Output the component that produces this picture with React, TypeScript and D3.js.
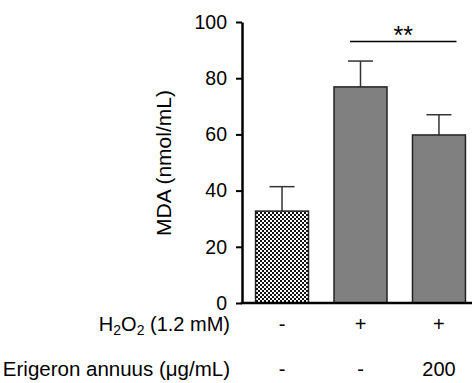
import React, { useRef, useEffect } from "react";
import { scaleBand, scaleLinear, axisLeft, select } from "d3";

const groups = ["control", "h2o2", "h2o2+ea"];
const means = [32.7, 76.9, 59.8];
const errors = [8.7, 9.2, 7.2];
const h2o2Row = ["-", "+", "+"];
const eaRow = ["-", "-", "200"];
const yTicks = [0, 20, 40, 60, 80, 100];

const font = "'Liberation Sans', Arial, Helvetica, sans-serif";

export default function App() {
  const width = 472,
    height = 383,
    axisX = 242,
    baseY = 303,
    topY = 22;

  const yAxisRef = useRef<SVGGElement>(null);

  const x = scaleBand()
    .domain(groups)
    .range([243, 478])
    .paddingInner(0.325)
    .paddingOuter(0.16);

  const y = scaleLinear().domain([0, 100]).range([baseY, topY]);

  useEffect(() => {
    const g = select(yAxisRef.current);
    g.call(
      axisLeft(y)
        .tickValues(yTicks)
        .tickSize(6)
        .tickPadding(9)
        .tickSizeOuter(0)
    );
    g.select(".domain").attr("stroke", "#000").attr("stroke-width", 2.5);
    g.selectAll(".tick line").attr("stroke", "#000").attr("stroke-width", 2);
    g.selectAll(".tick text")
      .attr("fill", "#000")
      .style("font-size", "19.5px")
      .style("font-family", font);
  }, []);

  const cx = (d: string) => (x(d) as number) + x.bandwidth() / 2;
  const capHalf = 12.5;

  return (
    <svg
      width={width}
      height={height}
      style={{ position: "absolute", left: 0, top: 0, background: "#fff" }}
    >
      <defs>
        <pattern id="checks" width="4" height="4" patternUnits="userSpaceOnUse">
          <rect width="4" height="4" fill="#fff" />
          <rect width="2" height="2" fill="#111" />
          <rect x="2" y="2" width="2" height="2" fill="#111" />
        </pattern>
      </defs>

      {groups.map((d, i) => (
        <g key={d}>
          <line
            x1={cx(d)}
            x2={cx(d)}
            y1={y(means[i])}
            y2={y(means[i] + errors[i])}
            stroke="#333"
            strokeWidth={1.5}
          />
          <line
            x1={cx(d) - capHalf}
            x2={cx(d) + capHalf}
            y1={y(means[i] + errors[i])}
            y2={y(means[i] + errors[i])}
            stroke="#333"
            strokeWidth={1.5}
          />
          <rect
            x={x(d)}
            y={y(means[i])}
            width={x.bandwidth()}
            height={baseY - y(means[i])}
            fill={i === 0 ? "url(#checks)" : "#808080"}
            stroke="#222"
            strokeWidth={1.5}
          />
        </g>
      ))}

      <g ref={yAxisRef} transform={`translate(${axisX},0)`} />
      <line
        x1={axisX - 1.25}
        x2={width}
        y1={baseY}
        y2={baseY}
        stroke="#000"
        strokeWidth={2.5}
      />

      <text
        transform={`translate(171, 163) rotate(-90)`}
        textAnchor="middle"
        style={{ fontFamily: font, fontSize: 21 }}
      >
        MDA (nmol/mL)
      </text>

      {/* significance bracket */}
      <line
        x1={cx(groups[1]) - 10.5}
        x2={cx(groups[2]) + 17.5}
        y1={41.5}
        y2={41.5}
        stroke="#000"
        strokeWidth={1.5}
      />
      <text
        x={(cx(groups[1]) + cx(groups[2])) / 2 + 3.5}
        y={44}
        textAnchor="middle"
        style={{ fontFamily: font, fontSize: 25 }}
      >
        **
      </text>

      <text
        x={230}
        y={331}
        textAnchor="end"
        style={{ fontFamily: font, fontSize: 20 }}
      >
        H<tspan fontSize={14} dy={4}>2</tspan>
        <tspan dy={-4}>O</tspan>
        <tspan fontSize={14} dy={4}>2</tspan>
        <tspan dy={-4}> (1.2 mM)</tspan>
      </text>
      <text
        x={230}
        y={376}
        textAnchor="end"
        style={{ fontFamily: font, fontSize: 20.5 }}
      >
        Erigeron annuus (μg/mL)
      </text>

      {groups.map((d, i) => (
        <g key={d + "-rows"} style={{ fontFamily: font, fontSize: 20 }}>
          <text x={cx(d)} y={331} textAnchor="middle">
            {h2o2Row[i]}
          </text>
          <text x={cx(d)} y={376} textAnchor="middle">
            {eaRow[i]}
          </text>
        </g>
      ))}
    </svg>
  );
}
